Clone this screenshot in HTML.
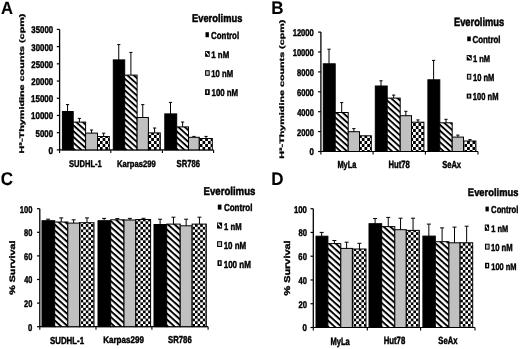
<!DOCTYPE html>
<html><head><meta charset="utf-8"><style>
html,body{margin:0;padding:0;background:#fff;width:520px;height:349px;overflow:hidden}
svg{display:block;will-change:transform}
text{font-family:"Liberation Sans",sans-serif;font-weight:bold;text-rendering:geometricPrecision;stroke:#000;stroke-width:2.2px}
</style></head><body>
<svg width="520" height="349" viewBox="0 0 520 349">
<defs><pattern id="hatchA" patternUnits="userSpaceOnUse" width="4.310" height="4.310" patternTransform="rotate(42)"><rect width="4.310" height="4.310" fill="#fff"/><rect width="4.310" height="1.897" fill="#000"/></pattern><pattern id="hatchC" patternUnits="userSpaceOnUse" width="4.459" height="4.459" patternTransform="rotate(42)"><rect width="4.459" height="4.459" fill="#fff"/><rect width="4.459" height="1.962" fill="#000"/></pattern><pattern id="hatchL" patternUnits="userSpaceOnUse" width="2.263" height="2.263" patternTransform="rotate(45)"><rect width="2.263" height="2.263" fill="#fff"/><rect width="2.263" height="1.131" fill="#000"/></pattern><pattern id="checkA" patternUnits="userSpaceOnUse" width="5.400" height="6.000"><rect width="5.400" height="6.000" fill="#fff"/><rect width="2.700" height="3.000" fill="#000"/><rect x="2.700" y="3.000" width="2.700" height="3.000" fill="#000"/></pattern><pattern id="checkC" patternUnits="userSpaceOnUse" width="5.200" height="5.400"><rect width="5.200" height="5.400" fill="#fff"/><rect width="2.600" height="2.700" fill="#000"/><rect x="2.600" y="2.700" width="2.600" height="2.700" fill="#000"/></pattern></defs>
<rect width="520" height="349" fill="#fff"/>
<line x1="59.60" y1="29.40" x2="59.60" y2="149.90" stroke="#000" stroke-width="1.3"/>
<line x1="56.80" y1="29.40" x2="59.60" y2="29.40" stroke="#000" stroke-width="1.2"/>
<line x1="56.80" y1="46.61" x2="59.60" y2="46.61" stroke="#000" stroke-width="1.2"/>
<line x1="56.80" y1="63.83" x2="59.60" y2="63.83" stroke="#000" stroke-width="1.2"/>
<line x1="56.80" y1="81.04" x2="59.60" y2="81.04" stroke="#000" stroke-width="1.2"/>
<line x1="56.80" y1="98.26" x2="59.60" y2="98.26" stroke="#000" stroke-width="1.2"/>
<line x1="56.80" y1="115.47" x2="59.60" y2="115.47" stroke="#000" stroke-width="1.2"/>
<line x1="56.80" y1="132.69" x2="59.60" y2="132.69" stroke="#000" stroke-width="1.2"/>
<line x1="56.80" y1="149.90" x2="59.60" y2="149.90" stroke="#000" stroke-width="1.2"/>
<line x1="59.60" y1="149.90" x2="213.60" y2="149.90" stroke="#000" stroke-width="1.2"/>
<line x1="59.60" y1="149.90" x2="59.60" y2="152.90" stroke="#000" stroke-width="1.1"/>
<line x1="110.80" y1="149.90" x2="110.80" y2="152.90" stroke="#000" stroke-width="1.1"/>
<line x1="162.40" y1="149.90" x2="162.40" y2="152.90" stroke="#000" stroke-width="1.1"/>
<line x1="213.60" y1="149.90" x2="213.60" y2="152.90" stroke="#000" stroke-width="1.1"/>
<rect x="62.40" y="111.50" width="10.80" height="38.40" fill="#000" stroke="#000" stroke-width="1"/>
<line x1="67.55" y1="104.60" x2="67.55" y2="111.50" stroke="#000" stroke-width="1"/>
<line x1="65.95" y1="104.60" x2="69.15" y2="104.60" stroke="#000" stroke-width="1"/>
<rect x="73.20" y="122.10" width="12.40" height="27.80" fill="url(#hatchA)" stroke="#000" stroke-width="1"/>
<line x1="79.40" y1="118.40" x2="79.40" y2="122.10" stroke="#000" stroke-width="1"/>
<line x1="77.80" y1="118.40" x2="81.00" y2="118.40" stroke="#000" stroke-width="1"/>
<rect x="85.60" y="133.10" width="11.90" height="16.80" fill="#c0c0c0" stroke="#000" stroke-width="1"/>
<line x1="91.55" y1="130.00" x2="91.55" y2="133.10" stroke="#000" stroke-width="1"/>
<line x1="89.95" y1="130.00" x2="93.15" y2="130.00" stroke="#000" stroke-width="1"/>
<rect x="97.50" y="136.50" width="11.80" height="13.40" fill="url(#checkA)" stroke="#000" stroke-width="1"/>
<line x1="103.65" y1="133.20" x2="103.65" y2="136.50" stroke="#000" stroke-width="1"/>
<line x1="102.05" y1="133.20" x2="105.25" y2="133.20" stroke="#000" stroke-width="1"/>
<rect x="113.30" y="59.90" width="11.40" height="90.00" fill="#000" stroke="#000" stroke-width="1"/>
<line x1="118.75" y1="44.60" x2="118.75" y2="59.90" stroke="#000" stroke-width="1"/>
<line x1="117.15" y1="44.60" x2="120.35" y2="44.60" stroke="#000" stroke-width="1"/>
<rect x="124.70" y="75.10" width="12.40" height="74.80" fill="url(#hatchA)" stroke="#000" stroke-width="1"/>
<line x1="130.90" y1="52.40" x2="130.90" y2="75.10" stroke="#000" stroke-width="1"/>
<line x1="129.30" y1="52.40" x2="132.50" y2="52.40" stroke="#000" stroke-width="1"/>
<rect x="137.10" y="117.50" width="11.30" height="32.40" fill="#c0c0c0" stroke="#000" stroke-width="1"/>
<line x1="142.75" y1="104.60" x2="142.75" y2="117.50" stroke="#000" stroke-width="1"/>
<line x1="141.15" y1="104.60" x2="144.35" y2="104.60" stroke="#000" stroke-width="1"/>
<rect x="148.40" y="132.90" width="11.90" height="17.00" fill="url(#checkA)" stroke="#000" stroke-width="1"/>
<line x1="154.60" y1="128.00" x2="154.60" y2="132.90" stroke="#000" stroke-width="1"/>
<line x1="153.00" y1="128.00" x2="156.20" y2="128.00" stroke="#000" stroke-width="1"/>
<rect x="164.80" y="113.90" width="11.90" height="36.00" fill="#000" stroke="#000" stroke-width="1"/>
<line x1="170.50" y1="102.40" x2="170.50" y2="113.90" stroke="#000" stroke-width="1"/>
<line x1="168.90" y1="102.40" x2="172.10" y2="102.40" stroke="#000" stroke-width="1"/>
<rect x="176.70" y="126.90" width="11.80" height="23.00" fill="url(#hatchA)" stroke="#000" stroke-width="1"/>
<line x1="182.60" y1="122.00" x2="182.60" y2="126.90" stroke="#000" stroke-width="1"/>
<line x1="181.00" y1="122.00" x2="184.20" y2="122.00" stroke="#000" stroke-width="1"/>
<rect x="188.50" y="137.30" width="10.80" height="12.60" fill="#c0c0c0" stroke="#000" stroke-width="1"/>
<line x1="193.90" y1="136.40" x2="193.90" y2="137.30" stroke="#000" stroke-width="1"/>
<line x1="192.30" y1="136.40" x2="195.50" y2="136.40" stroke="#000" stroke-width="1"/>
<rect x="199.30" y="138.50" width="13.00" height="11.40" fill="url(#checkA)" stroke="#000" stroke-width="1"/>
<line x1="206.05" y1="136.40" x2="206.05" y2="138.50" stroke="#000" stroke-width="1"/>
<line x1="204.45" y1="136.40" x2="207.65" y2="136.40" stroke="#000" stroke-width="1"/>
<line x1="320.90" y1="32.10" x2="320.90" y2="151.50" stroke="#000" stroke-width="1.3"/>
<line x1="318.10" y1="32.10" x2="320.90" y2="32.10" stroke="#000" stroke-width="1.2"/>
<line x1="318.10" y1="52.00" x2="320.90" y2="52.00" stroke="#000" stroke-width="1.2"/>
<line x1="318.10" y1="71.90" x2="320.90" y2="71.90" stroke="#000" stroke-width="1.2"/>
<line x1="318.10" y1="91.80" x2="320.90" y2="91.80" stroke="#000" stroke-width="1.2"/>
<line x1="318.10" y1="111.70" x2="320.90" y2="111.70" stroke="#000" stroke-width="1.2"/>
<line x1="318.10" y1="131.60" x2="320.90" y2="131.60" stroke="#000" stroke-width="1.2"/>
<line x1="318.10" y1="151.50" x2="320.90" y2="151.50" stroke="#000" stroke-width="1.2"/>
<line x1="320.90" y1="151.50" x2="478.00" y2="151.50" stroke="#000" stroke-width="1.2"/>
<line x1="320.90" y1="151.50" x2="320.90" y2="154.50" stroke="#000" stroke-width="1.1"/>
<line x1="373.10" y1="151.50" x2="373.10" y2="154.50" stroke="#000" stroke-width="1.1"/>
<line x1="425.40" y1="151.50" x2="425.40" y2="154.50" stroke="#000" stroke-width="1.1"/>
<line x1="478.00" y1="151.50" x2="478.00" y2="154.50" stroke="#000" stroke-width="1.1"/>
<rect x="323.30" y="63.80" width="11.90" height="87.70" fill="#000" stroke="#000" stroke-width="1"/>
<line x1="329.00" y1="49.20" x2="329.00" y2="63.80" stroke="#000" stroke-width="1"/>
<line x1="327.40" y1="49.20" x2="330.60" y2="49.20" stroke="#000" stroke-width="1"/>
<rect x="335.20" y="112.50" width="13.00" height="39.00" fill="url(#hatchA)" stroke="#000" stroke-width="1"/>
<line x1="341.70" y1="102.60" x2="341.70" y2="112.50" stroke="#000" stroke-width="1"/>
<line x1="340.10" y1="102.60" x2="343.30" y2="102.60" stroke="#000" stroke-width="1"/>
<rect x="348.20" y="131.70" width="11.30" height="19.80" fill="#c0c0c0" stroke="#000" stroke-width="1"/>
<line x1="353.85" y1="128.60" x2="353.85" y2="131.70" stroke="#000" stroke-width="1"/>
<line x1="352.25" y1="128.60" x2="355.45" y2="128.60" stroke="#000" stroke-width="1"/>
<rect x="359.50" y="135.80" width="11.80" height="15.70" fill="url(#checkA)" stroke="#000" stroke-width="1"/>
<rect x="375.30" y="86.00" width="11.90" height="65.50" fill="#000" stroke="#000" stroke-width="1"/>
<line x1="381.00" y1="80.80" x2="381.00" y2="86.00" stroke="#000" stroke-width="1"/>
<line x1="379.40" y1="80.80" x2="382.60" y2="80.80" stroke="#000" stroke-width="1"/>
<rect x="387.20" y="98.10" width="13.00" height="53.40" fill="url(#hatchA)" stroke="#000" stroke-width="1"/>
<line x1="393.70" y1="95.10" x2="393.70" y2="98.10" stroke="#000" stroke-width="1"/>
<line x1="392.10" y1="95.10" x2="395.30" y2="95.10" stroke="#000" stroke-width="1"/>
<rect x="400.20" y="115.70" width="11.30" height="35.80" fill="#c0c0c0" stroke="#000" stroke-width="1"/>
<line x1="405.85" y1="111.30" x2="405.85" y2="115.70" stroke="#000" stroke-width="1"/>
<line x1="404.25" y1="111.30" x2="407.45" y2="111.30" stroke="#000" stroke-width="1"/>
<rect x="411.50" y="122.20" width="12.40" height="29.30" fill="url(#checkA)" stroke="#000" stroke-width="1"/>
<line x1="417.95" y1="119.90" x2="417.95" y2="122.20" stroke="#000" stroke-width="1"/>
<line x1="416.35" y1="119.90" x2="419.55" y2="119.90" stroke="#000" stroke-width="1"/>
<rect x="427.90" y="79.80" width="11.90" height="71.70" fill="#000" stroke="#000" stroke-width="1"/>
<line x1="433.60" y1="60.40" x2="433.60" y2="79.80" stroke="#000" stroke-width="1"/>
<line x1="432.00" y1="60.40" x2="435.20" y2="60.40" stroke="#000" stroke-width="1"/>
<rect x="439.80" y="122.80" width="12.40" height="28.70" fill="url(#hatchA)" stroke="#000" stroke-width="1"/>
<line x1="446.00" y1="119.30" x2="446.00" y2="122.80" stroke="#000" stroke-width="1"/>
<line x1="444.40" y1="119.30" x2="447.60" y2="119.30" stroke="#000" stroke-width="1"/>
<rect x="452.20" y="137.10" width="11.30" height="14.40" fill="#c0c0c0" stroke="#000" stroke-width="1"/>
<line x1="457.85" y1="135.10" x2="457.85" y2="137.10" stroke="#000" stroke-width="1"/>
<line x1="456.25" y1="135.10" x2="459.45" y2="135.10" stroke="#000" stroke-width="1"/>
<rect x="463.50" y="141.00" width="12.40" height="10.50" fill="url(#checkA)" stroke="#000" stroke-width="1"/>
<line x1="469.95" y1="139.60" x2="469.95" y2="141.00" stroke="#000" stroke-width="1"/>
<line x1="468.35" y1="139.60" x2="471.55" y2="139.60" stroke="#000" stroke-width="1"/>
<line x1="39.80" y1="208.70" x2="39.80" y2="326.70" stroke="#000" stroke-width="1.3"/>
<line x1="37.00" y1="208.70" x2="39.80" y2="208.70" stroke="#000" stroke-width="1.2"/>
<line x1="37.00" y1="232.30" x2="39.80" y2="232.30" stroke="#000" stroke-width="1.2"/>
<line x1="37.00" y1="255.90" x2="39.80" y2="255.90" stroke="#000" stroke-width="1.2"/>
<line x1="37.00" y1="279.50" x2="39.80" y2="279.50" stroke="#000" stroke-width="1.2"/>
<line x1="37.00" y1="303.10" x2="39.80" y2="303.10" stroke="#000" stroke-width="1.2"/>
<line x1="37.00" y1="326.70" x2="39.80" y2="326.70" stroke="#000" stroke-width="1.2"/>
<line x1="39.80" y1="326.70" x2="208.10" y2="326.70" stroke="#000" stroke-width="1.2"/>
<line x1="39.80" y1="326.70" x2="39.80" y2="329.70" stroke="#000" stroke-width="1.1"/>
<line x1="96.00" y1="326.70" x2="96.00" y2="329.70" stroke="#000" stroke-width="1.1"/>
<line x1="151.90" y1="326.70" x2="151.90" y2="329.70" stroke="#000" stroke-width="1.1"/>
<line x1="208.10" y1="326.70" x2="208.10" y2="329.70" stroke="#000" stroke-width="1.1"/>
<rect x="42.00" y="220.70" width="12.70" height="106.00" fill="#000" stroke="#000" stroke-width="1"/>
<line x1="48.10" y1="219.20" x2="48.10" y2="220.70" stroke="#000" stroke-width="1"/>
<line x1="46.10" y1="219.20" x2="50.10" y2="219.20" stroke="#000" stroke-width="1"/>
<rect x="54.70" y="222.00" width="13.10" height="104.70" fill="url(#hatchC)" stroke="#000" stroke-width="1"/>
<line x1="61.25" y1="217.90" x2="61.25" y2="222.00" stroke="#000" stroke-width="1"/>
<line x1="59.25" y1="217.90" x2="63.25" y2="217.90" stroke="#000" stroke-width="1"/>
<rect x="67.80" y="223.10" width="11.70" height="103.60" fill="#c0c0c0" stroke="#000" stroke-width="1"/>
<line x1="73.65" y1="219.80" x2="73.65" y2="223.10" stroke="#000" stroke-width="1"/>
<line x1="71.65" y1="219.80" x2="75.65" y2="219.80" stroke="#000" stroke-width="1"/>
<rect x="79.50" y="222.70" width="14.50" height="104.00" fill="url(#checkC)" stroke="#000" stroke-width="1"/>
<line x1="87.00" y1="217.90" x2="87.00" y2="222.70" stroke="#000" stroke-width="1"/>
<line x1="85.00" y1="217.90" x2="89.00" y2="217.90" stroke="#000" stroke-width="1"/>
<rect x="98.00" y="220.70" width="12.70" height="106.00" fill="#000" stroke="#000" stroke-width="1"/>
<line x1="104.10" y1="218.40" x2="104.10" y2="220.70" stroke="#000" stroke-width="1"/>
<line x1="102.10" y1="218.40" x2="106.10" y2="218.40" stroke="#000" stroke-width="1"/>
<rect x="110.70" y="219.80" width="13.30" height="106.90" fill="url(#hatchC)" stroke="#000" stroke-width="1"/>
<line x1="117.35" y1="218.60" x2="117.35" y2="219.80" stroke="#000" stroke-width="1"/>
<line x1="115.35" y1="218.60" x2="119.35" y2="218.60" stroke="#000" stroke-width="1"/>
<rect x="124.00" y="220.00" width="11.80" height="106.70" fill="#c0c0c0" stroke="#000" stroke-width="1"/>
<line x1="129.90" y1="218.40" x2="129.90" y2="220.00" stroke="#000" stroke-width="1"/>
<line x1="127.90" y1="218.40" x2="131.90" y2="218.40" stroke="#000" stroke-width="1"/>
<rect x="135.80" y="219.50" width="14.80" height="107.20" fill="url(#checkC)" stroke="#000" stroke-width="1"/>
<line x1="143.45" y1="218.30" x2="143.45" y2="219.50" stroke="#000" stroke-width="1"/>
<line x1="141.45" y1="218.30" x2="145.45" y2="218.30" stroke="#000" stroke-width="1"/>
<rect x="154.00" y="224.50" width="12.70" height="102.20" fill="#000" stroke="#000" stroke-width="1"/>
<line x1="160.10" y1="219.20" x2="160.10" y2="224.50" stroke="#000" stroke-width="1"/>
<line x1="158.10" y1="219.20" x2="162.10" y2="219.20" stroke="#000" stroke-width="1"/>
<rect x="166.70" y="224.10" width="13.50" height="102.60" fill="url(#hatchC)" stroke="#000" stroke-width="1"/>
<line x1="173.45" y1="217.20" x2="173.45" y2="224.10" stroke="#000" stroke-width="1"/>
<line x1="171.45" y1="217.20" x2="175.45" y2="217.20" stroke="#000" stroke-width="1"/>
<rect x="180.20" y="225.80" width="11.90" height="100.90" fill="#c0c0c0" stroke="#000" stroke-width="1"/>
<line x1="186.15" y1="219.20" x2="186.15" y2="225.80" stroke="#000" stroke-width="1"/>
<line x1="184.15" y1="219.20" x2="188.15" y2="219.20" stroke="#000" stroke-width="1"/>
<rect x="192.10" y="224.10" width="14.20" height="102.60" fill="url(#checkC)" stroke="#000" stroke-width="1"/>
<line x1="199.45" y1="217.20" x2="199.45" y2="224.10" stroke="#000" stroke-width="1"/>
<line x1="197.45" y1="217.20" x2="201.45" y2="217.20" stroke="#000" stroke-width="1"/>
<line x1="313.30" y1="208.70" x2="313.30" y2="327.50" stroke="#000" stroke-width="1.3"/>
<line x1="310.50" y1="208.70" x2="313.30" y2="208.70" stroke="#000" stroke-width="1.2"/>
<line x1="310.50" y1="232.46" x2="313.30" y2="232.46" stroke="#000" stroke-width="1.2"/>
<line x1="310.50" y1="256.22" x2="313.30" y2="256.22" stroke="#000" stroke-width="1.2"/>
<line x1="310.50" y1="279.98" x2="313.30" y2="279.98" stroke="#000" stroke-width="1.2"/>
<line x1="310.50" y1="303.74" x2="313.30" y2="303.74" stroke="#000" stroke-width="1.2"/>
<line x1="310.50" y1="327.50" x2="313.30" y2="327.50" stroke="#000" stroke-width="1.2"/>
<line x1="313.30" y1="327.50" x2="475.00" y2="327.50" stroke="#000" stroke-width="1.2"/>
<line x1="313.30" y1="327.50" x2="313.30" y2="330.50" stroke="#000" stroke-width="1.1"/>
<line x1="367.30" y1="327.50" x2="367.30" y2="330.50" stroke="#000" stroke-width="1.1"/>
<line x1="420.60" y1="327.50" x2="420.60" y2="330.50" stroke="#000" stroke-width="1.1"/>
<line x1="475.00" y1="327.50" x2="475.00" y2="330.50" stroke="#000" stroke-width="1.1"/>
<rect x="316.00" y="236.20" width="11.90" height="91.30" fill="#000" stroke="#000" stroke-width="1"/>
<line x1="321.70" y1="232.40" x2="321.70" y2="236.20" stroke="#000" stroke-width="1"/>
<line x1="319.70" y1="232.40" x2="323.70" y2="232.40" stroke="#000" stroke-width="1"/>
<rect x="327.90" y="243.60" width="12.90" height="83.90" fill="url(#hatchC)" stroke="#000" stroke-width="1"/>
<line x1="334.35" y1="240.50" x2="334.35" y2="243.60" stroke="#000" stroke-width="1"/>
<line x1="332.35" y1="240.50" x2="336.35" y2="240.50" stroke="#000" stroke-width="1"/>
<rect x="340.80" y="248.40" width="11.60" height="79.10" fill="#c0c0c0" stroke="#000" stroke-width="1"/>
<line x1="346.60" y1="242.20" x2="346.60" y2="248.40" stroke="#000" stroke-width="1"/>
<line x1="344.60" y1="242.20" x2="348.60" y2="242.20" stroke="#000" stroke-width="1"/>
<rect x="352.40" y="249.00" width="13.60" height="78.50" fill="url(#checkC)" stroke="#000" stroke-width="1"/>
<line x1="359.45" y1="243.30" x2="359.45" y2="249.00" stroke="#000" stroke-width="1"/>
<line x1="357.45" y1="243.30" x2="361.45" y2="243.30" stroke="#000" stroke-width="1"/>
<rect x="369.00" y="223.70" width="12.70" height="103.80" fill="#000" stroke="#000" stroke-width="1"/>
<line x1="375.10" y1="218.50" x2="375.10" y2="223.70" stroke="#000" stroke-width="1"/>
<line x1="373.10" y1="218.50" x2="377.10" y2="218.50" stroke="#000" stroke-width="1"/>
<rect x="381.70" y="226.60" width="13.10" height="100.90" fill="url(#hatchC)" stroke="#000" stroke-width="1"/>
<line x1="388.25" y1="217.40" x2="388.25" y2="226.60" stroke="#000" stroke-width="1"/>
<line x1="386.25" y1="217.40" x2="390.25" y2="217.40" stroke="#000" stroke-width="1"/>
<rect x="394.80" y="229.70" width="11.50" height="97.80" fill="#c0c0c0" stroke="#000" stroke-width="1"/>
<line x1="400.55" y1="218.20" x2="400.55" y2="229.70" stroke="#000" stroke-width="1"/>
<line x1="398.55" y1="218.20" x2="402.55" y2="218.20" stroke="#000" stroke-width="1"/>
<rect x="406.30" y="230.40" width="13.00" height="97.10" fill="url(#checkC)" stroke="#000" stroke-width="1"/>
<line x1="413.05" y1="218.20" x2="413.05" y2="230.40" stroke="#000" stroke-width="1"/>
<line x1="411.05" y1="218.20" x2="415.05" y2="218.20" stroke="#000" stroke-width="1"/>
<rect x="422.90" y="236.10" width="12.40" height="91.40" fill="#000" stroke="#000" stroke-width="1"/>
<line x1="428.85" y1="224.10" x2="428.85" y2="236.10" stroke="#000" stroke-width="1"/>
<line x1="426.85" y1="224.10" x2="430.85" y2="224.10" stroke="#000" stroke-width="1"/>
<rect x="435.30" y="241.70" width="13.60" height="85.80" fill="url(#hatchC)" stroke="#000" stroke-width="1"/>
<line x1="442.10" y1="227.90" x2="442.10" y2="241.70" stroke="#000" stroke-width="1"/>
<line x1="440.10" y1="227.90" x2="444.10" y2="227.90" stroke="#000" stroke-width="1"/>
<rect x="448.90" y="242.80" width="11.20" height="84.70" fill="#c0c0c0" stroke="#000" stroke-width="1"/>
<line x1="454.50" y1="227.10" x2="454.50" y2="242.80" stroke="#000" stroke-width="1"/>
<line x1="452.50" y1="227.10" x2="456.50" y2="227.10" stroke="#000" stroke-width="1"/>
<rect x="460.10" y="242.80" width="12.60" height="84.70" fill="url(#checkC)" stroke="#000" stroke-width="1"/>
<line x1="466.65" y1="226.20" x2="466.65" y2="242.80" stroke="#000" stroke-width="1"/>
<line x1="464.65" y1="226.20" x2="468.65" y2="226.20" stroke="#000" stroke-width="1"/>
<text transform="translate(0.93,13.50) scale(0.3328,0.3578)" font-size="50" fill="#000" style="stroke-width:0.3px">A</text>
<text transform="translate(271.15,13.50) scale(0.3410,0.3607)" font-size="50" fill="#000" style="stroke-width:0.3px">B</text>
<text transform="translate(0.67,185.20) scale(0.3405,0.3670)" font-size="50" fill="#000" style="stroke-width:0.3px">C</text>
<text transform="translate(271.35,185.20) scale(0.3396,0.3607)" font-size="50" fill="#000" style="stroke-width:0.3px">D</text>
<text transform="translate(31.37,33.30) scale(0.1564,0.1950)" font-size="50" fill="#000">35000</text>
<text transform="translate(31.37,50.51) scale(0.1564,0.1950)" font-size="50" fill="#000">30000</text>
<text transform="translate(31.28,67.73) scale(0.1571,0.1950)" font-size="50" fill="#000">25000</text>
<text transform="translate(31.28,84.94) scale(0.1571,0.1950)" font-size="50" fill="#000">20000</text>
<text transform="translate(31.05,102.16) scale(0.1587,0.1950)" font-size="50" fill="#000">15000</text>
<text transform="translate(31.05,119.37) scale(0.1587,0.1950)" font-size="50" fill="#000">10000</text>
<text transform="translate(35.62,136.59) scale(0.1574,0.1950)" font-size="50" fill="#000">5000</text>
<text transform="translate(48.54,153.80) scale(0.1655,0.1950)" font-size="50" fill="#000">0</text>
<text transform="translate(292.67,36.00) scale(0.1520,0.1950)" font-size="50" fill="#000">12000</text>
<text transform="translate(292.67,55.90) scale(0.1520,0.1950)" font-size="50" fill="#000">10000</text>
<text transform="translate(297.06,75.80) scale(0.1507,0.1950)" font-size="50" fill="#000">8000</text>
<text transform="translate(297.02,95.70) scale(0.1510,0.1950)" font-size="50" fill="#000">6000</text>
<text transform="translate(297.19,115.60) scale(0.1495,0.1950)" font-size="50" fill="#000">4000</text>
<text transform="translate(297.04,135.50) scale(0.1509,0.1950)" font-size="50" fill="#000">2000</text>
<text transform="translate(309.43,155.40) scale(0.1579,0.1950)" font-size="50" fill="#000">0</text>
<text transform="translate(19.82,212.60) scale(0.1509,0.1950)" font-size="50" fill="#000">100</text>
<text transform="translate(24.12,236.20) scale(0.1492,0.1950)" font-size="50" fill="#000">80</text>
<text transform="translate(24.08,259.80) scale(0.1499,0.1950)" font-size="50" fill="#000">60</text>
<text transform="translate(24.25,283.40) scale(0.1467,0.1950)" font-size="50" fill="#000">40</text>
<text transform="translate(24.10,307.00) scale(0.1496,0.1950)" font-size="50" fill="#000">20</text>
<text transform="translate(28.12,330.60) scale(0.1545,0.1950)" font-size="50" fill="#000">0</text>
<text transform="translate(294.01,212.60) scale(0.1548,0.1950)" font-size="50" fill="#000">100</text>
<text transform="translate(298.41,236.36) scale(0.1531,0.1950)" font-size="50" fill="#000">80</text>
<text transform="translate(298.37,260.12) scale(0.1538,0.1950)" font-size="50" fill="#000">60</text>
<text transform="translate(298.55,283.88) scale(0.1505,0.1950)" font-size="50" fill="#000">40</text>
<text transform="translate(298.39,307.64) scale(0.1534,0.1950)" font-size="50" fill="#000">20</text>
<text transform="translate(302.51,331.40) scale(0.1587,0.1950)" font-size="50" fill="#000">0</text>
<text transform="translate(68.97,166.80) scale(0.1516,0.1950)" font-size="50" fill="#000">SUDHL-1</text>
<text transform="translate(117.09,166.70) scale(0.1526,0.1892)" font-size="50" fill="#000">Karpas299</text>
<text transform="translate(176.57,166.80) scale(0.1537,0.2007)" font-size="50" fill="#000">SR786</text>
<text transform="translate(337.40,167.90) scale(0.1483,0.2007)" font-size="50" fill="#000">MyLa</text>
<text transform="translate(388.58,168.40) scale(0.1530,0.2093)" font-size="50" fill="#000">Hut78</text>
<text transform="translate(442.17,168.10) scale(0.1511,0.2036)" font-size="50" fill="#000">SeAx</text>
<text transform="translate(49.96,343.60) scale(0.1572,0.2036)" font-size="50" fill="#000">SUDHL-1</text>
<text transform="translate(103.16,343.20) scale(0.1610,0.1921)" font-size="50" fill="#000">Karpas299</text>
<text transform="translate(167.97,343.40) scale(0.1557,0.2007)" font-size="50" fill="#000">SR786</text>
<text transform="translate(330.49,344.50) scale(0.1507,0.2095)" font-size="50" fill="#000">MyLa</text>
<text transform="translate(383.68,344.40) scale(0.1552,0.2093)" font-size="50" fill="#000">Hut78</text>
<text transform="translate(438.37,344.40) scale(0.1535,0.2093)" font-size="50" fill="#000">SeAx</text>
<text transform="translate(24.02,153.43) rotate(-90) scale(0.2161,0.1330)" font-size="50">H³-Thymidine counts (cpm)</text>
<text transform="translate(283.86,158.73) rotate(-90) scale(0.2149,0.1287)" font-size="50">H³-Thymidine counts (cpm)</text>
<text transform="translate(15.22,294.87) rotate(-90) scale(0.2152,0.1578)" font-size="50">% Survival</text>
<text transform="translate(290.12,295.57) rotate(-90) scale(0.2180,0.1687)" font-size="50">% Survival</text>
<text transform="translate(191.97,22.30) scale(0.1870,0.2234)" font-size="50" fill="#000">Everolimus</text>
<text transform="translate(210.98,39.30) scale(0.1585,0.2014)" font-size="50" fill="#000">Control</text>
<rect x="205.50" y="32.20" width="3.40" height="5.00" fill="#000"/>
<text transform="translate(211.31,58.20) scale(0.1574,0.1891)" font-size="50" fill="#000">1 nM</text>
<rect x="205.10" y="51.10" width="4.60" height="5.70" fill="#000"/>
<line x1="206.40" y1="52.60" x2="208.40" y2="55.00" stroke="#fff" stroke-width="1.3" stroke-linecap="round"/>
<text transform="translate(211.32,77.30) scale(0.1539,0.1978)" font-size="50" fill="#000">10 nM</text>
<rect x="205.60" y="70.70" width="3.60" height="4.60" fill="#c0c0c0" stroke="#000" stroke-width="1"/>
<text transform="translate(211.51,96.30) scale(0.1571,0.1978)" font-size="50" fill="#000">100 nM</text>
<rect x="205.10" y="89.20" width="4.60" height="5.80" fill="#000"/>
<rect x="206.70" y="90.40" width="1.38" height="3.19" fill="#fff"/>
<text transform="translate(453.97,26.30) scale(0.1863,0.2372)" font-size="50" fill="#000">Everolimus</text>
<text transform="translate(472.48,43.30) scale(0.1579,0.2014)" font-size="50" fill="#000">Control</text>
<rect x="467.20" y="36.50" width="3.60" height="4.70" fill="#000"/>
<text transform="translate(472.93,62.20) scale(0.1509,0.1891)" font-size="50" fill="#000">1 nM</text>
<rect x="466.70" y="55.10" width="5.00" height="5.40" fill="#000"/>
<line x1="468.00" y1="56.60" x2="470.40" y2="58.70" stroke="#fff" stroke-width="1.3" stroke-linecap="round"/>
<text transform="translate(472.93,81.30) scale(0.1510,0.2036)" font-size="50" fill="#000">10 nM</text>
<rect x="467.40" y="74.30" width="3.40" height="4.80" fill="#c0c0c0" stroke="#000" stroke-width="1"/>
<text transform="translate(472.83,100.30) scale(0.1515,0.2036)" font-size="50" fill="#000">100 nM</text>
<rect x="466.70" y="93.60" width="4.60" height="5.00" fill="#000"/>
<rect x="468.30" y="94.80" width="1.38" height="2.75" fill="#fff"/>
<text transform="translate(203.55,194.50) scale(0.1923,0.2290)" font-size="50" fill="#000">Everolimus</text>
<text transform="translate(223.88,211.30) scale(0.1608,0.2014)" font-size="50" fill="#000">Control</text>
<rect x="217.80" y="204.60" width="3.70" height="5.00" fill="#000"/>
<text transform="translate(224.12,229.60) scale(0.1537,0.1949)" font-size="50" fill="#000">1 nM</text>
<rect x="217.10" y="222.50" width="5.00" height="6.10" fill="#000"/>
<line x1="218.40" y1="224.00" x2="220.80" y2="226.80" stroke="#fff" stroke-width="1.3" stroke-linecap="round"/>
<text transform="translate(223.70,248.50) scale(0.1591,0.2036)" font-size="50" fill="#000">10 nM</text>
<rect x="217.60" y="241.70" width="4.00" height="4.80" fill="#c0c0c0" stroke="#000" stroke-width="1"/>
<text transform="translate(223.70,267.50) scale(0.1601,0.2036)" font-size="50" fill="#000">100 nM</text>
<rect x="217.50" y="260.20" width="4.20" height="5.80" fill="#000"/>
<rect x="219.10" y="261.40" width="1.26" height="3.19" fill="#fff"/>
<text transform="translate(467.87,195.50) scale(0.1878,0.2179)" font-size="50" fill="#000">Everolimus</text>
<text transform="translate(491.09,213.30) scale(0.1538,0.2014)" font-size="50" fill="#000">Control</text>
<rect x="485.50" y="206.60" width="3.30" height="4.80" fill="#000"/>
<text transform="translate(491.24,231.60) scale(0.1481,0.1920)" font-size="50" fill="#000">1 nM</text>
<rect x="484.80" y="224.50" width="4.30" height="6.30" fill="#000"/>
<line x1="486.10" y1="226.00" x2="487.80" y2="229.00" stroke="#fff" stroke-width="1.3" stroke-linecap="round"/>
<text transform="translate(490.92,251.00) scale(0.1532,0.2036)" font-size="50" fill="#000">10 nM</text>
<rect x="485.50" y="244.20" width="3.60" height="4.90" fill="#c0c0c0" stroke="#000" stroke-width="1"/>
<text transform="translate(491.23,269.60) scale(0.1497,0.1921)" font-size="50" fill="#000">100 nM</text>
<rect x="485.00" y="262.80" width="4.20" height="5.60" fill="#000"/>
<rect x="486.60" y="264.00" width="1.26" height="3.08" fill="#fff"/>
</svg>
</body></html>
